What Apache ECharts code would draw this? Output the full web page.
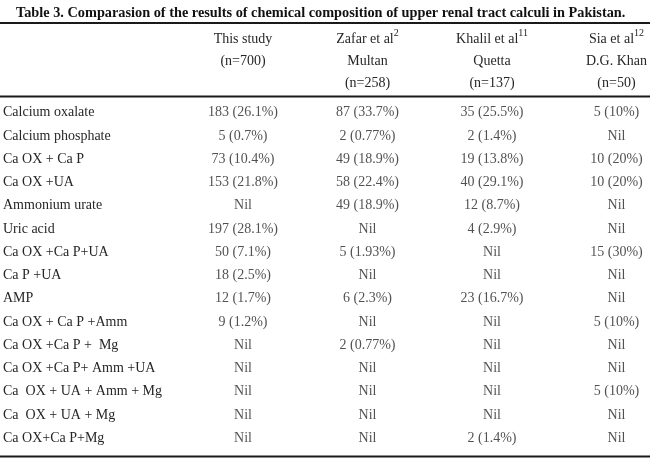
<!DOCTYPE html>
<html>
<head>
<meta charset="utf-8">
<script src="https://cdn.jsdelivr.net/npm/echarts@6/dist/echarts.min.js"></script>
<style>
  html, body { margin: 0; padding: 0; background: #fff; }
  #chart { width: 650px; height: 464px; }
</style>
</head>
<body>
<div id="chart"></div>
<script>
// 表格数据
const titleText = 'Table 3. Comparasion of the results of chemical composition of upper renal tract calculi in Pakistan.';
const rowNames = [
    'Calcium oxalate', 'Calcium phosphate', 'Ca OX + Ca P', 'Ca OX +UA', 'Ammonium urate',
    'Uric acid', 'Ca OX +Ca P+UA', 'Ca P +UA', 'AMP', 'Ca OX + Ca P +Amm',
    'Ca OX +Ca P +  Mg', 'Ca OX +Ca P+ Amm +UA', 'Ca  OX + UA + Amm + Mg', 'Ca  OX + UA + Mg', 'Ca OX+Ca P+Mg'
];
const studyKeys = ['this', 'zafar', 'khalil', 'sia'];
const headerName = ['This study', 'Zafar et al', 'Khalil et al', 'Sia et al'];
const headerRef = ['', '2', '11', '12'];
const headerLine2 = ['(n=700)', 'Multan', 'Quetta', 'D.G. Khan'];
const headerLine3 = ['', '(n=258)', '(n=137)', '(n=50)'];

const thisCount = [183, 5, 73, 153, null, 197, 50, 18, 12, 9, null, null, null, null, null];
const thisPct = [26.1, 0.7, 10.4, 21.8, null, 28.1, 7.1, 2.5, 1.7, 1.2, null, null, null, null, null];
const zafarCount = [87, 2, 49, 58, 49, null, 5, null, 6, null, 2, null, null, null, null];
const zafarPct = [33.7, 0.77, 18.9, 22.4, 18.9, null, 1.93, null, 2.3, null, 0.77, null, null, null, null];
const khalilCount = [35, 2, 19, 40, 12, 4, null, null, 23, null, null, null, null, null, 2];
const khalilPct = [25.5, 1.4, 13.8, 29.1, 8.7, 2.9, null, null, 16.7, null, null, null, null, null, 1.4];
const siaCount = [5, null, 10, 10, null, null, 15, null, null, 5, null, null, 5, null, null];
const siaPct = [10, null, 20, 20, null, null, 30, null, null, 10, null, null, 10, null, null];

const counts = [thisCount, zafarCount, khalilCount, siaCount];
const pcts = [thisPct, zafarPct, khalilPct, siaPct];

const serif = '"Liberation Serif", "Times New Roman", serif';
const ink = '#262626';

// 单元格
let cells = [];
studyKeys.forEach((key, c) => {
    rowNames.forEach((row, r) => {
        let n = counts[c][r];
        let txt = n == null ? 'Nil' : `${n} (${pcts[c][r]}%)`;
        cells.push({ value: [c, r], name: txt });
    });
});

let chart = echarts.init(document.getElementById('chart'));
chart.setOption({
    backgroundColor: '#fff',
    animation: false,
    title: {
        text: titleText,
        left: 11,
        top: 1,
        textStyle: { fontFamily: serif, fontWeight: 'bold', fontSize: 14.3, color: '#111' }
    },
    grid: { left: 243, right: 33, top: 112.7, bottom: 25.7, containLabel: false },
    xAxis: {
        type: 'category',
        position: 'top',
        data: studyKeys,
        boundaryGap: false,
        axisLine: { show: false },
        axisTick: { show: false },
        splitLine: { show: false },
        axisLabel: {
            interval: 0,
            margin: 18,
            lineHeight: 22,
            formatter: (v, i) => {
                let l1 = `{t|${headerName[i]}}` + (headerRef[i] ? `{s|${headerRef[i]}}` : '');
                let l3 = headerLine3[i] || ' ';
                return `${l1}\n{t|${headerLine2[i]}}\n{t|${l3}}`;
            },
            rich: {
                t: { fontFamily: serif, fontSize: 14, color: ink, lineHeight: 22 },
                s: { fontFamily: serif, fontSize: 10, color: ink, lineHeight: 12, verticalAlign: 'top' }
            }
        }
    },
    yAxis: {
        type: 'category',
        inverse: true,
        data: rowNames,
        boundaryGap: false,
        axisLine: { show: false },
        axisTick: { show: false },
        splitLine: { show: false },
        axisLabel: {
            interval: 0,
            align: 'left',
            margin: 240,
            fontFamily: serif,
            fontSize: 14,
            color: ink
        }
    },
    graphic: [
        { type: 'line', shape: { x1: 0, y1: 23, x2: 650, y2: 23 }, style: { stroke: '#1a1a1a', lineWidth: 2 } },
        { type: 'line', shape: { x1: 0, y1: 96.5, x2: 650, y2: 96.5 }, style: { stroke: '#1a1a1a', lineWidth: 2 } },
        { type: 'line', shape: { x1: 0, y1: 456.5, x2: 650, y2: 456.5 }, style: { stroke: '#1a1a1a', lineWidth: 2 } }
    ],
    series: [{
        type: 'scatter',
        data: cells,
        symbolSize: 1,
        itemStyle: { color: 'rgba(0,0,0,0)' },
        silent: true,
        label: {
            show: true,
            position: 'inside',
            formatter: p => p.name,
            fontFamily: serif,
            fontSize: 14,
            color: ink
        }
    }]
});
</script>
</body>
</html>
